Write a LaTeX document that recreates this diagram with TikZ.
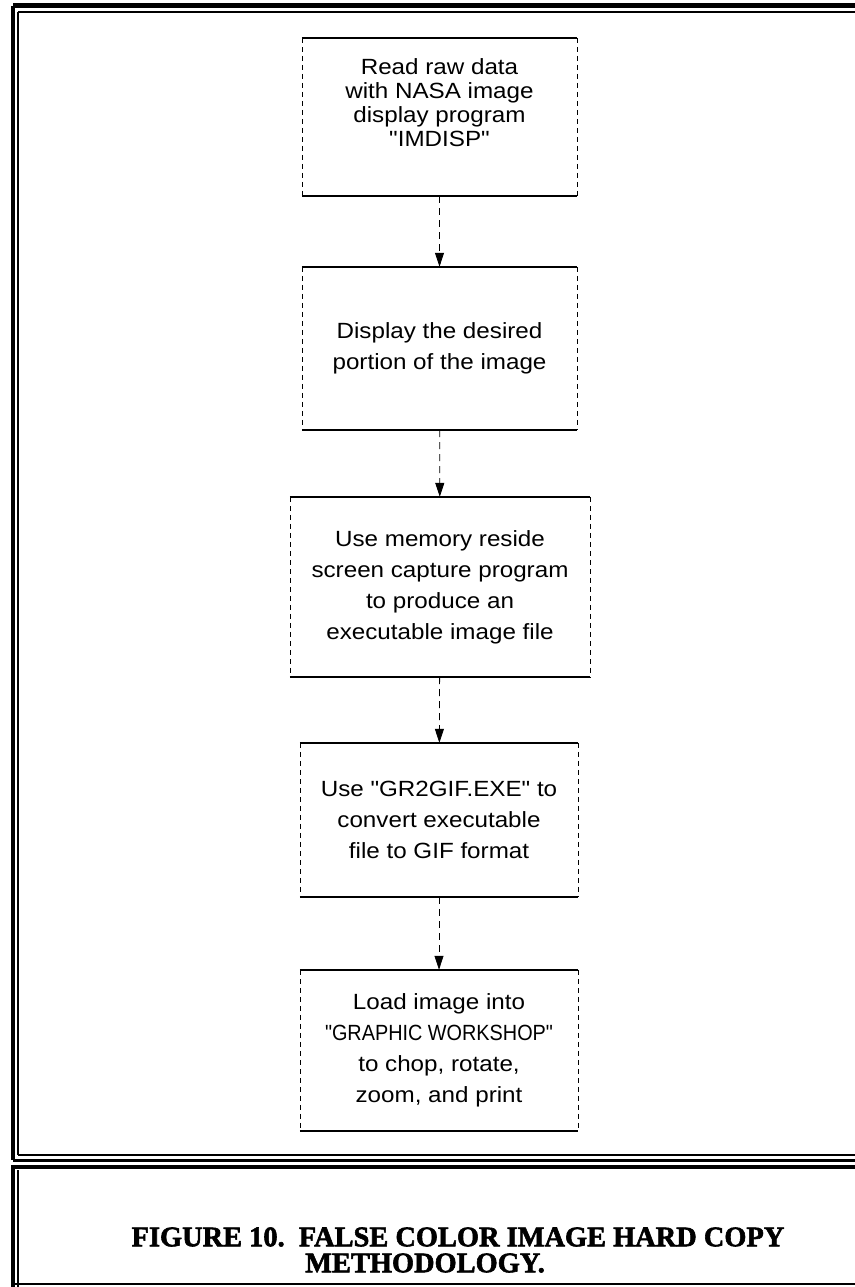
\documentclass[tikz,border=0pt]{standalone}
\usepackage{fontspec}
\newfontfamily\boxfont{Liberation Sans}[FakeStretch=1.1]
\newfontfamily\capfont{Liberation Serif}[FakeBold=2]
\usetikzlibrary{arrows.meta}

\tikzset{
  procbox/.style={draw=none, align=center, inner sep=0pt,
    font=\boxfont\fontsize{22}{31}\selectfont},
  rule/.style={line width=1.6pt},
  side/.style={line width=0.6pt, dash pattern=on 5pt off 4pt},
  flow/.style={-{Triangle[length=14pt,width=9pt]}, line width=0.8pt,
    dash pattern=on 7pt off 5pt},
}

\begin{document}
\begin{tikzpicture}[x=1pt, y=-1pt]
\useasboundingbox (0,0) rectangle (854,1287);
% frame of the figure
\draw[line width=5pt] (13,6) -- (860,6);
\draw[line width=2pt] (18,12) -- (860,12);
\draw[line width=4pt] (13,6) -- (13,1160);
\draw[line width=1.5pt] (18,12) -- (18,1155);
\draw[line width=3pt] (13,1160) -- (860,1160);
\draw[line width=1.5pt] (18,1155) -- (860,1155);
% caption panel
\draw[line width=3.5pt] (11,1167) -- (860,1167);
\draw[line width=4pt] (13,1167) -- (13,1287);
\draw[line width=1.5pt] (18,1170) -- (18,1287);
\draw[line width=2pt] (13,1284) -- (860,1284);

% steps
\node[procbox, minimum width=275pt, minimum height=158pt, text depth=28pt,
  font=\boxfont\fontsize{22}{24}\selectfont]
  (read) at (439.5,117) {Read raw data\\with NASA image\\display program\\"IMDISP"};
\node[procbox, minimum width=275pt, minimum height=163pt]
  (display) at (439.5,348.5) {Display the desired\\portion of the image};
\node[procbox, minimum width=300pt, minimum height=180pt]
  (capture) at (440,587) {Use memory reside\\screen capture program\\to produce an\\executable image file};
\node[procbox, minimum width=278pt, minimum height=154pt]
  (convert) at (439,820) {Use "GR2GIF.EXE" to\\convert executable\\file to GIF format};
\node[procbox, minimum width=278pt, minimum height=161pt]
  (load) at (439,1050.5) {Load image into\\\scalebox{0.82}[1]{"GRAPHIC WORKSHOP"}\\to chop, rotate,\\zoom, and print};

\foreach \n in {read,display,capture,convert,load}{
  \draw[rule] (\n.north west) -- (\n.north east);
  \draw[rule] (\n.south west) -- (\n.south east);
  \draw[side] (\n.north west) -- (\n.south west);
  \draw[side] (\n.north east) -- (\n.south east);
}

\draw[flow] (read) -- (display);
\draw[flow] (display) -- (capture);
\draw[flow] (capture) -- (convert);
\draw[flow] (convert) -- (load);

\node[align=center, font=\capfont\bfseries\fontsize{28.4}{26}\selectfont]
  (caption) at (458,1250) {FIGURE 10.\ \ FALSE COLOR IMAGE HARD COPY\\\hspace*{-66pt}METHODOLOGY.};
\end{tikzpicture}
\end{document}
